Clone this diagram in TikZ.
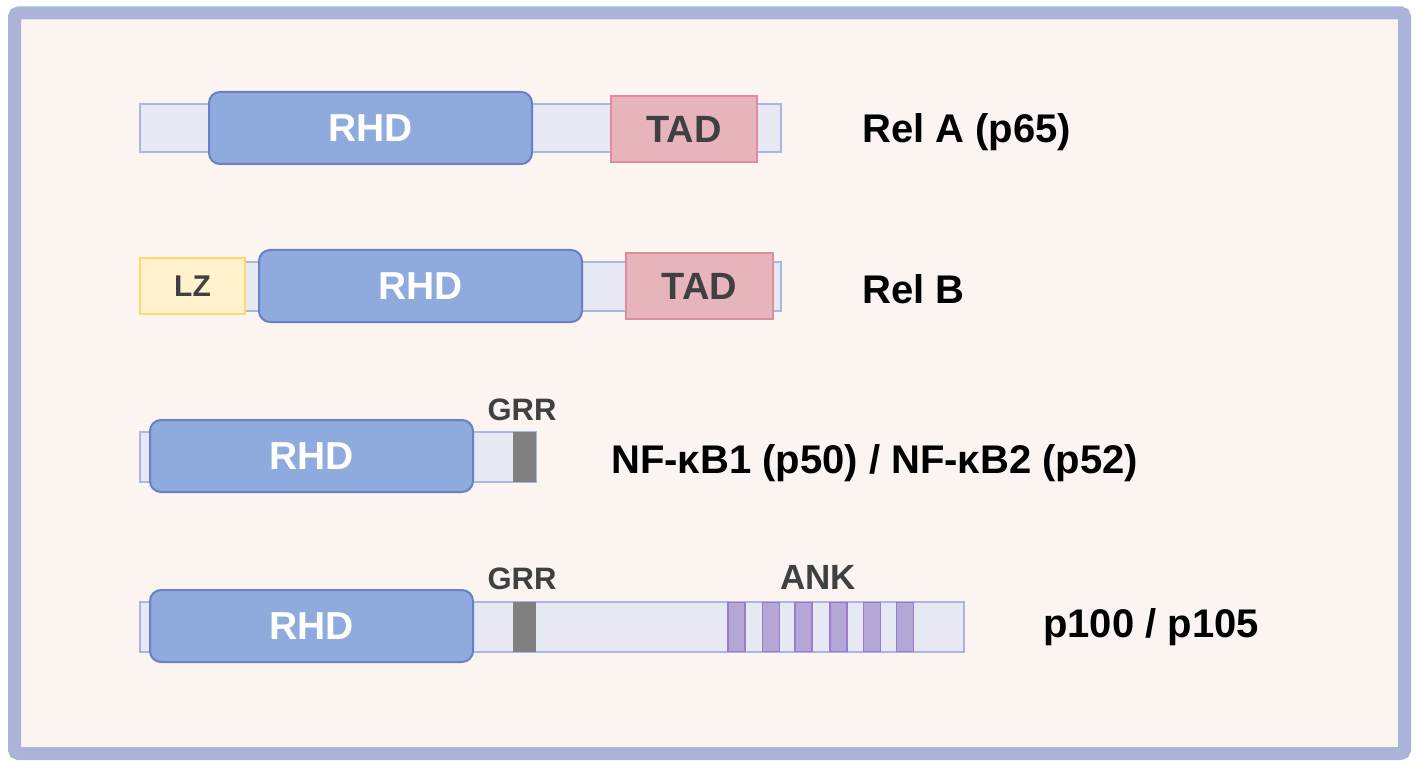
\documentclass[tikz,border=0pt]{standalone}
\usepackage{fontspec}
\setmainfont{Liberation Sans}
\definecolor{frameC}{HTML}{AAB4DA}
\definecolor{bgC}{HTML}{FCF4F1}
\definecolor{rhdF}{HTML}{8FAADC}
\definecolor{rhdD}{HTML}{6A80C4}
\definecolor{bbF}{HTML}{E6E8F3}
\definecolor{bbD}{HTML}{AAB6E2}
\definecolor{tadF}{HTML}{E8B4BC}
\definecolor{tadD}{HTML}{DC8E9C}
\definecolor{lzF}{HTML}{FFF2CC}
\definecolor{lzD}{HTML}{FFD966}
\definecolor{grrF}{HTML}{808080}
\definecolor{ankF}{HTML}{B4A7D6}
\definecolor{ankD}{HTML}{9A7CCB}
\definecolor{txtD}{HTML}{404040}
\tikzset{
  box/.style={draw, inner sep=0pt, outer sep=0pt, font=\bfseries},
  backbone/.style={box, fill=bbF, draw=bbD, line width=1.8pt},
  rhd/.style={box, fill=rhdF, draw=rhdD, line width=2pt, rounded corners=11pt, text=white, font=\fontsize{39}{41}\selectfont\bfseries},
  tad/.style={box, fill=tadF, draw=tadD, line width=1.8pt, text=txtD, font=\fontsize{38}{40}\selectfont\bfseries},
  lz/.style={box, fill=lzF, draw=lzD, line width=1.8pt, text=txtD, font=\fontsize{30}{32}\selectfont\bfseries},
  grr/.style={box, fill=grrF, draw=none},
  ank/.style={box, fill=ankF, draw=ankD, line width=1.6pt},
  small/.style={text=txtD, inner sep=0pt, font=\fontsize{31}{33}\selectfont\bfseries},
  lbl/.style={anchor=base west, inner sep=0pt, font=\fontsize{40}{42}\selectfont\bfseries},
}
\begin{document}
\begin{tikzpicture}[x=1pt,y=-1pt]
\useasboundingbox (0,0) rectangle (1418,767);
\fill[white] (0,0) rectangle (1418,767);
\draw[frameC, fill=bgC, line width=13pt, rounded corners=4pt] (14.5,13) rectangle (1404.5,753.5);

% Row 1: Rel A
\node[backbone, minimum width=641pt, minimum height=48pt] (bb1) at (460.5,128) {};
\node[rhd, minimum width=323pt, minimum height=72pt] (rhd1) at (370.5,128) {RHD};
\node[tad, minimum width=146pt, minimum height=66pt] (tad1) at (684,129) {TAD};
\node[lbl] (l1) at (862,143) {Rel A (p65)};

% Row 2: Rel B
\node[backbone, minimum width=536pt, minimum height=49pt] (bb2) at (513,286.5) {};
\node[lz, minimum width=105pt, minimum height=56pt] (lz2) at (192.5,286) {LZ};
\node[rhd, minimum width=323pt, minimum height=72pt] (rhd2) at (420.5,286) {RHD};
\node[tad, minimum width=147pt, minimum height=66pt] (tad2) at (699.5,286) {TAD};
\node[lbl] (l2) at (862,303) {Rel B};

% Row 3: NF-kB1 / NF-kB2
\node[backbone, minimum width=396pt, minimum height=50pt] (bb3) at (338,457) {};
\node[grr, minimum width=23pt, minimum height=50pt] (g3) at (524.5,457) {};
\node[rhd, minimum width=323pt, minimum height=72pt] (rhd3) at (311.5,456) {RHD};
\node[small] (gl3) at (522,410) {GRR};
\node[lbl] (l3) at (611,473) {NF-κB1 (p50) / NF-κB2 (p52)};

% Row 4: p100 / p105
\node[backbone, minimum width=824pt, minimum height=50pt] (bb4) at (552,627) {};
\node[grr, minimum width=23pt, minimum height=50pt] (g4) at (524.5,627) {};
\node[rhd, minimum width=323pt, minimum height=72pt] (rhd4) at (311.5,626) {RHD};
\node[small] (gl4) at (522,579) {GRR};
\foreach \i/\x in {1/736.5,2/771,3/803.5,4/838.5,5/872,6/905} {
  \node[ank, minimum width=17pt, minimum height=49pt] (a\i) at (\x,627) {};
}
\node[small, font=\fontsize{35}{37}\selectfont\bfseries] (ankl) at (818,577) {ANK};
\node[lbl] (l4) at (1043,637) {p100 / p105};
\end{tikzpicture}
\end{document}
